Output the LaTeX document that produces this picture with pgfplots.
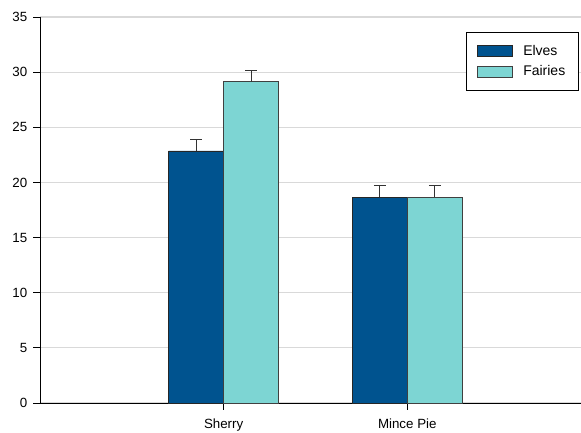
\documentclass[border=0pt]{standalone}
\usepackage{pgfplots}
\pgfplotsset{compat=1.18}
\usepackage{fontspec}
\setmainfont{Liberation Sans}
\definecolor{elves}{RGB}{0,83,143}
\definecolor{fairies}{RGB}{125,213,211}
\definecolor{gridc}{RGB}{217,217,217}
\begin{document}
\begin{tikzpicture}
\begin{axis}[
  scale only axis,
  width=405.75pt, height=289.5pt,
  xmin=0, xmax=2.946,
  ymin=0, ymax=35,
  ytick={0,5,...,35},
  xtick={1,2},
  xticklabels={Sherry,Mince Pie},
  axis x line=bottom, axis y line=left,
  axis line style={-, black, line width=0.75pt},
  tick align=outside,
  major tick length=5pt,
  tick style={black, line width=0.6pt},
  ymajorgrids,
  major grid style={gridc, line width=0.9pt},
  ybar=0pt, bar width=41.25pt,
  font=\fontsize{10}{12}\selectfont,
  tick label style={font=\fontsize{10}{12}\selectfont},
  /pgf/number format/assume math mode=true,
  yticklabel style={xshift=-1pt},
  xticklabel style={yshift=-3pt},
  legend style={at={(1,1)}, anchor=north east, xshift=-1.5pt, yshift=-11.25pt,
    draw=black, line width=0.6pt, inner xsep=8pt, inner ysep=7pt,
    row sep=1.5pt, font=\fontsize{10.5}{12}\selectfont,
    nodes={text height=8pt, text depth=2pt},
    /tikz/every odd column/.append style={column sep=6pt}},
  legend cell align=left,
  legend image code/.code={\draw[#1, line width=0.6pt] (0pt,-4pt) rectangle (26pt,4pt);},
  error bars/y dir=plus, error bars/y explicit,
  error bars/error mark options={rotate=90, mark size=4.5pt, line width=0.75pt, draw=black!80},
  error bars/error bar style={line width=0.75pt, draw=black!80},
]
\addplot[fill=elves, draw=black!85, line width=0.6pt] coordinates {(1,22.85) +- (0,1.03) (2,18.67) +- (0,1.06)};
\addplot[fill=fairies, draw=black!75, line width=0.6pt] coordinates {(1,29.15) +- (0,1.03) (2,18.67) +- (0,1.06)};
\legend{Elves,Fairies}
\end{axis}
\pgfresetboundingbox
\path (-30pt,-21.75pt) rectangle (405.75pt,302.25pt);
\end{tikzpicture}
\end{document}
